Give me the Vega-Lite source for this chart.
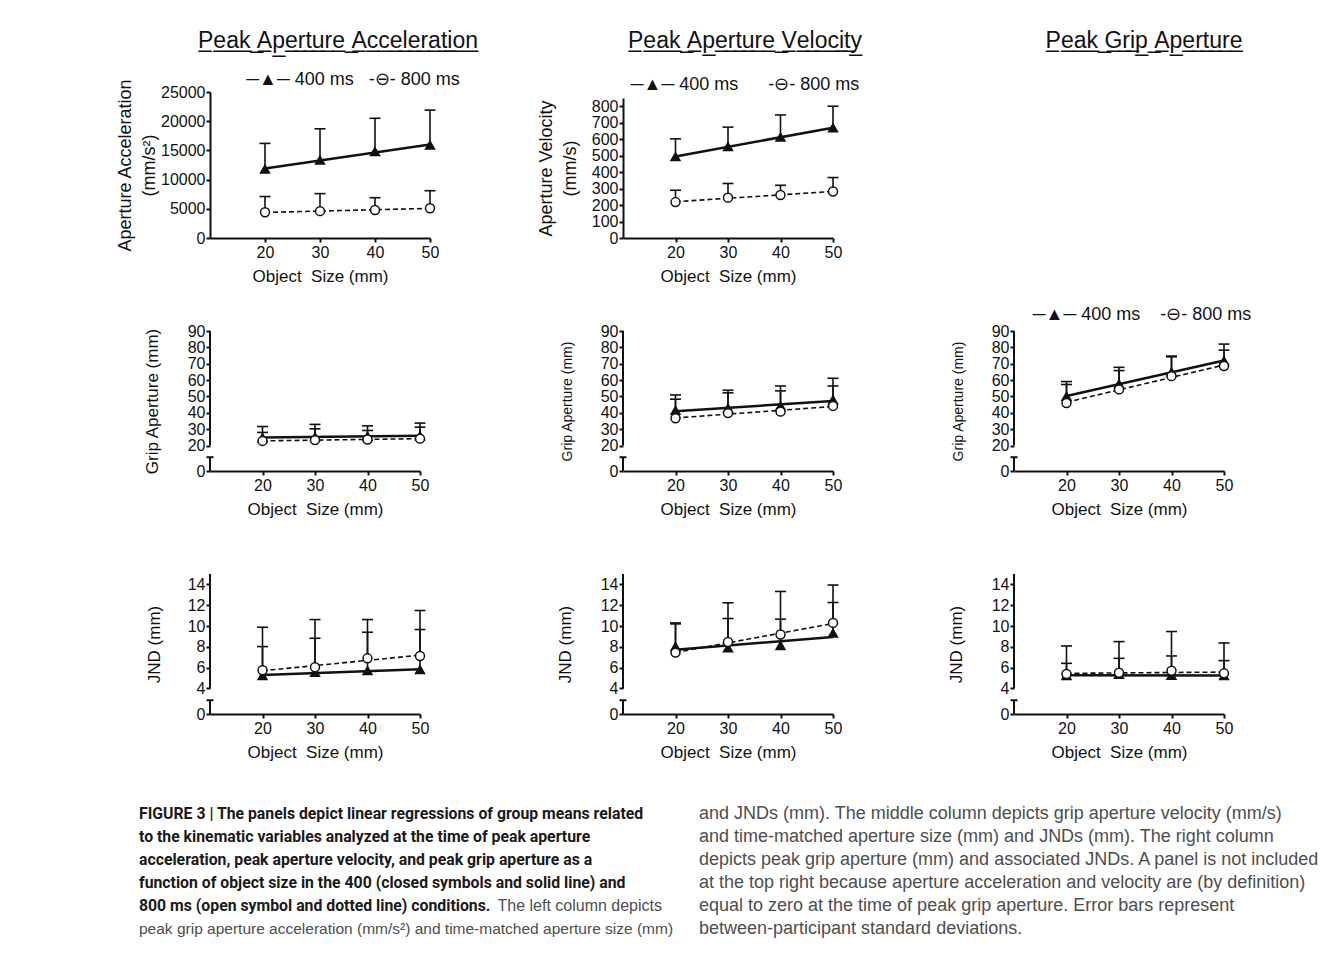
{
"$schema":"https://vega.github.io/schema/vega-lite/v6.json",
"background":"white",
"autosize":{"type":"pad"},
"padding":{"left":116,"top":30,"right":2,"bottom":2},
"datasets":{
"kin":[
{"panel":"acc","series":"400 ms","size":20,"mean":11800,"upper":16200},
{"panel":"acc","series":"400 ms","size":30,"mean":13350,"upper":18700},
{"panel":"acc","series":"400 ms","size":40,"mean":14800,"upper":20500},
{"panel":"acc","series":"400 ms","size":50,"mean":15900,"upper":21900},
{"panel":"acc","series":"800 ms","size":20,"mean":4400,"upper":7100},
{"panel":"acc","series":"800 ms","size":30,"mean":4600,"upper":7600},
{"panel":"acc","series":"800 ms","size":40,"mean":4800,"upper":6900},
{"panel":"acc","series":"800 ms","size":50,"mean":5100,"upper":8100},
{"panel":"vel","series":"400 ms","size":20,"mean":494,"upper":602},
{"panel":"vel","series":"400 ms","size":30,"mean":555,"upper":673},
{"panel":"vel","series":"400 ms","size":40,"mean":612,"upper":747},
{"panel":"vel","series":"400 ms","size":50,"mean":669,"upper":800},
{"panel":"vel","series":"800 ms","size":20,"mean":218,"upper":290},
{"panel":"vel","series":"800 ms","size":30,"mean":245,"upper":331},
{"panel":"vel","series":"800 ms","size":40,"mean":261,"upper":320},
{"panel":"vel","series":"800 ms","size":50,"mean":282,"upper":367},
{"panel":"grip_acc","series":"400 ms","size":20,"mean":24.8,"upper":31.6},
{"panel":"grip_acc","series":"400 ms","size":30,"mean":25.2,"upper":32.9},
{"panel":"grip_acc","series":"400 ms","size":40,"mean":25.6,"upper":32.0},
{"panel":"grip_acc","series":"400 ms","size":50,"mean":25.9,"upper":33.7},
{"panel":"grip_acc","series":"800 ms","size":20,"mean":22.8,"upper":28.0},
{"panel":"grip_acc","series":"800 ms","size":30,"mean":23.3,"upper":30.2},
{"panel":"grip_acc","series":"800 ms","size":40,"mean":23.7,"upper":29.2},
{"panel":"grip_acc","series":"800 ms","size":50,"mean":24.2,"upper":31.2},
{"panel":"grip_vel","series":"400 ms","size":20,"mean":41.4,"upper":50.9},
{"panel":"grip_vel","series":"400 ms","size":30,"mean":42.8,"upper":53.8},
{"panel":"grip_vel","series":"400 ms","size":40,"mean":44.2,"upper":56.4},
{"panel":"grip_vel","series":"400 ms","size":50,"mean":47.9,"upper":61.1},
{"panel":"grip_vel","series":"800 ms","size":20,"mean":36.7,"upper":48.3},
{"panel":"grip_vel","series":"800 ms","size":30,"mean":39.8,"upper":52.2},
{"panel":"grip_vel","series":"800 ms","size":40,"mean":40.7,"upper":53.4},
{"panel":"grip_vel","series":"800 ms","size":50,"mean":44.2,"upper":56.4},
{"panel":"grip_pga","series":"400 ms","size":20,"mean":50.1,"upper":59.1},
{"panel":"grip_pga","series":"400 ms","size":30,"mean":57.7,"upper":67.8},
{"panel":"grip_pga","series":"400 ms","size":40,"mean":64.8,"upper":74.7},
{"panel":"grip_pga","series":"400 ms","size":50,"mean":71.8,"upper":82.0},
{"panel":"grip_pga","series":"800 ms","size":20,"mean":46.0,"upper":57.3},
{"panel":"grip_pga","series":"800 ms","size":30,"mean":54.3,"upper":65.8},
{"panel":"grip_pga","series":"800 ms","size":40,"mean":62.4,"upper":74.2},
{"panel":"grip_pga","series":"800 ms","size":50,"mean":68.6,"upper":78.3},
{"panel":"jnd_acc","series":"400 ms","size":20,"mean":5.22,"upper":8.02},
{"panel":"jnd_acc","series":"400 ms","size":30,"mean":5.54,"upper":8.82},
{"panel":"jnd_acc","series":"400 ms","size":40,"mean":5.7,"upper":9.4},
{"panel":"jnd_acc","series":"400 ms","size":50,"mean":5.8,"upper":9.66},
{"panel":"jnd_acc","series":"800 ms","size":20,"mean":5.74,"upper":9.88},
{"panel":"jnd_acc","series":"800 ms","size":30,"mean":6.03,"upper":10.62},
{"panel":"jnd_acc","series":"800 ms","size":40,"mean":6.89,"upper":10.62},
{"panel":"jnd_acc","series":"800 ms","size":50,"mean":7.12,"upper":11.49},
{"panel":"jnd_vel","series":"400 ms","size":20,"mean":8.02,"upper":10.2},
{"panel":"jnd_vel","series":"400 ms","size":30,"mean":7.89,"upper":10.72},
{"panel":"jnd_vel","series":"400 ms","size":40,"mean":8.12,"upper":10.66},
{"panel":"jnd_vel","series":"400 ms","size":50,"mean":9.31,"upper":12.26},
{"panel":"jnd_vel","series":"800 ms","size":20,"mean":7.44,"upper":10.3},
{"panel":"jnd_vel","series":"800 ms","size":30,"mean":8.47,"upper":12.23},
{"panel":"jnd_vel","series":"800 ms","size":40,"mean":9.18,"upper":13.32},
{"panel":"jnd_vel","series":"800 ms","size":50,"mean":10.3,"upper":13.94},
{"panel":"jnd_pga","series":"400 ms","size":20,"mean":5.22,"upper":6.41},
{"panel":"jnd_pga","series":"400 ms","size":30,"mean":5.35,"upper":6.89},
{"panel":"jnd_pga","series":"400 ms","size":40,"mean":5.25,"upper":7.12},
{"panel":"jnd_pga","series":"400 ms","size":50,"mean":5.22,"upper":6.67},
{"panel":"jnd_pga","series":"800 ms","size":20,"mean":5.38,"upper":8.08},
{"panel":"jnd_pga","series":"800 ms","size":30,"mean":5.5,"upper":8.5},
{"panel":"jnd_pga","series":"800 ms","size":40,"mean":5.7,"upper":9.47},
{"panel":"jnd_pga","series":"800 ms","size":50,"mean":5.45,"upper":8.37}
],
"caption":[
{"col":0,"line":1,"part":"lead","text":"FIGURE 3 | The panels depict linear regressions of group means related"},
{"col":0,"line":2,"part":"lead","text":"to the kinematic variables analyzed at the time of peak aperture"},
{"col":0,"line":3,"part":"lead","text":"acceleration, peak aperture velocity, and peak grip aperture as a"},
{"col":0,"line":4,"part":"lead","text":"function of object size in the 400 (closed symbols and solid line) and"},
{"col":0,"line":5,"part":"lead","text":"800 ms (open symbol and dotted line) conditions."},
{"col":0,"line":5,"part":"body","text":"The left column depicts"},
{"col":0,"line":6,"part":"body","text":"peak grip aperture acceleration (mm/s²) and time-matched aperture size (mm)"},
{"col":1,"line":1,"part":"body","text":"and JNDs (mm). The middle column depicts grip aperture velocity (mm/s)"},
{"col":1,"line":2,"part":"body","text":"and time-matched aperture size (mm) and JNDs (mm). The right column"},
{"col":1,"line":3,"part":"body","text":"depicts peak grip aperture (mm) and associated JNDs. A panel is not included"},
{"col":1,"line":4,"part":"body","text":"at the top right because aperture acceleration and velocity are (by definition)"},
{"col":1,"line":5,"part":"body","text":"equal to zero at the time of peak grip aperture. Error bars represent"},
{"col":1,"line":6,"part":"body","text":"between-participant standard deviations."}
]
},
"vconcat":[
{"columns":3,"bounds":"flush","spacing":{"row":93,"column":193},
"concat":[
{"width":220,"height":146,
 "title":{"text":"P\u0332e\u0332a\u0332k\u0332 \u0332A\u0332p\u0332e\u0332r\u0332t\u0332u\u0332r\u0332e\u0332 \u0332A\u0332c\u0332c\u0332e\u0332l\u0332e\u0332r\u0332a\u0332t\u0332i\u0332o\u0332n\u0332","subtitle":"\u200b\u00a0\u00a0\u00a0\u00a0\u00a0\u00a0─▲─ 400 ms\u00a0\u00a0\u00a0-⊖- 800 ms","dx":18,"offset":-11},
 "data":{"name":"kin"},
 "transform":[{"filter":"datum.panel === 'acc'"}],
 "encoding":{
  "x":{"field":"size","type":"quantitative","scale":{"domain":[10,50],"nice":false,"zero":false},"axis":{"values":[20,30,40,50],"title":"Object\u00a0 Size (mm)"}},
  "y":{"field":"mean","type":"quantitative","scale":{"domain":[0,25000],"nice":false,"zero":false},"axis":{"values":[0,5000,10000,15000,20000,25000],"format":"d","title":["Aperture Acceleration","(mm/s²)"],"titleFontSize":18,"titlePadding":2,"titleLineHeight":24}}
 },
 "layer":[
  {"mark":{"type":"rule","color":"#111","strokeWidth":1.6},"encoding":{"y2":{"field":"upper"}}},
  {"mark":{"type":"tick","orient":"horizontal","color":"#111","thickness":1.6,"size":11,"opacity":1},"encoding":{"y":{"field":"upper","type":"quantitative","scale":{"domain":[0,25000],"nice":false,"zero":false}}}},
  {"transform":[{"filter":"datum.series === '800 ms'"},{"regression":"mean","on":"size","extent":[20,50]}],"mark":{"type":"line","color":"#111","strokeWidth":1.6,"strokeDash":[5,3]},"encoding":{}},
  {"transform":[{"filter":"datum.series === '400 ms'"},{"regression":"mean","on":"size","extent":[20,50]}],"mark":{"type":"line","color":"#111","strokeWidth":2.5},"encoding":{}},
  {"mark":{"type":"point","filled":true,"stroke":"#111","strokeWidth":1.5,"size":80,"opacity":1},"encoding":{"shape":{"field":"series","type":"nominal","scale":{"domain":["400 ms","800 ms"],"range":["triangle-up","circle"]},"legend":null},"fill":{"field":"series","type":"nominal","scale":{"domain":["400 ms","800 ms"],"range":["#111111","#ffffff"]},"legend":null}}}
 ]
},
{"width":198,"height":146,
 "title":{"text":"P\u0332e\u0332a\u0332k\u0332 \u0332A\u0332p\u0332e\u0332r\u0332t\u0332u\u0332r\u0332e\u0332 \u0332V\u0332e\u0332l\u0332o\u0332c\u0332i\u0332t\u0332y\u0332","subtitle":"─▲─ 400 ms\u00a0\u00a0\u00a0\u00a0\u00a0\u00a0-⊖- 800 ms","dx":23,"offset":-2,"subtitlePadding":23},
 "data":{"name":"kin"},
 "transform":[{"filter":"datum.panel === 'vel'"}],
 "encoding":{
  "x":{"field":"size","type":"quantitative","scale":{"domain":[10,50],"range":[0,210],"nice":false,"zero":false},"axis":{"values":[20,30,40,50],"title":"Object\u00a0 Size (mm)"}},
  "y":{"field":"mean","type":"quantitative","scale":{"domain":[0,850],"range":[146,6],"nice":false,"zero":false},"axis":{"values":[0,100,200,300,400,500,600,700,800],"title":["Aperture Velocity","(mm/s)"],"titleFontSize":18,"titlePadding":12,"titleLineHeight":24}}
 },
 "layer":[
  {"mark":{"type":"rule","color":"#111","strokeWidth":1.6},"encoding":{"y2":{"field":"upper"}}},
  {"mark":{"type":"tick","orient":"horizontal","color":"#111","thickness":1.6,"size":11,"opacity":1},"encoding":{"y":{"field":"upper","type":"quantitative","scale":{"domain":[0,850],"range":[146,6],"nice":false,"zero":false}}}},
  {"transform":[{"filter":"datum.series === '800 ms'"},{"regression":"mean","on":"size","extent":[20,50]}],"mark":{"type":"line","color":"#111","strokeWidth":1.6,"strokeDash":[5,3]},"encoding":{}},
  {"transform":[{"filter":"datum.series === '400 ms'"},{"regression":"mean","on":"size","extent":[20,50]}],"mark":{"type":"line","color":"#111","strokeWidth":2.5},"encoding":{}},
  {"mark":{"type":"point","filled":true,"stroke":"#111","strokeWidth":1.5,"size":80,"opacity":1},"encoding":{"shape":{"field":"series","type":"nominal","scale":{"domain":["400 ms","800 ms"],"range":["triangle-up","circle"]},"legend":null},"fill":{"field":"series","type":"nominal","scale":{"domain":["400 ms","800 ms"],"range":["#111111","#ffffff"]},"legend":null}}}
 ]
},
{"width":210,"height":146,
 "title":{"text":"P\u0332e\u0332a\u0332k\u0332 \u0332G\u0332r\u0332i\u0332p\u0332 \u0332A\u0332p\u0332e\u0332r\u0332t\u0332u\u0332r\u0332e\u0332","dx":25,"offset":39},
 "data":{"values":[]},
 "mark":"point"
},
{"width":210,"height":140,
 "data":{"name":"kin"},
 "transform":[{"filter":"datum.panel === 'grip_acc'"}],
 "encoding":{
  "x":{"field":"size","type":"quantitative","scale":{"domain":[10,50],"nice":false,"zero":false},"axis":{"values":[20,30,40,50],"title":"Object\u00a0 Size (mm)"}},
  "y":{"field":"mean","type":"quantitative","scale":{"domain":[0,20,90],"range":[140,114.5,0],"nice":false,"zero":false},"axis":{"values":[0,20,30,40,50,60,70,80,90],"domain":false,"title":"Grip Aperture (mm)","titlePadding":26}}
 },
 "layer":[
  {"transform":[{"filter":"datum.series === '400 ms' && datum.size === 20"}],"mark":{"type":"rule","color":"#111","strokeWidth":2},"encoding":{"x":{"datum":10,"type":"quantitative","scale":{"domain":[10,50],"nice":false,"zero":false}},"y":{"datum":20,"type":"quantitative","scale":{"domain":[0,20,90],"range":[140,114.5,0],"nice":false,"zero":false}},"y2":{"datum":90}}},
  {"transform":[{"filter":"datum.series === '400 ms' && datum.size === 20"}],"mark":{"type":"rule","color":"#111","strokeWidth":2},"encoding":{"x":{"datum":10,"type":"quantitative","scale":{"domain":[10,50],"nice":false,"zero":false}},"y":{"datum":0,"type":"quantitative","scale":{"domain":[0,20,90],"range":[140,114.5,0],"nice":false,"zero":false}},"y2":{"datum":10.8}}},
  {"transform":[{"filter":"datum.series === '400 ms' && datum.size === 20"}],"mark":{"type":"tick","orient":"horizontal","color":"#111","thickness":2,"size":7,"opacity":1},"encoding":{"x":{"datum":10,"type":"quantitative","scale":{"domain":[10,50],"nice":false,"zero":false}},"y":{"datum":10.8,"type":"quantitative","scale":{"domain":[0,20,90],"range":[140,114.5,0],"nice":false,"zero":false}}}},
  {"mark":{"type":"rule","color":"#111","strokeWidth":1.6},"encoding":{"y2":{"field":"upper"}}},
  {"mark":{"type":"tick","orient":"horizontal","color":"#111","thickness":1.6,"size":11,"opacity":1},"encoding":{"y":{"field":"upper","type":"quantitative","scale":{"domain":[0,20,90],"range":[140,114.5,0],"nice":false,"zero":false}}}},
  {"transform":[{"filter":"datum.series === '800 ms'"},{"regression":"mean","on":"size","extent":[20,50]}],"mark":{"type":"line","color":"#111","strokeWidth":1.6,"strokeDash":[5,3]},"encoding":{}},
  {"transform":[{"filter":"datum.series === '400 ms'"},{"regression":"mean","on":"size","extent":[20,50]}],"mark":{"type":"line","color":"#111","strokeWidth":2.5},"encoding":{}},
  {"mark":{"type":"point","filled":true,"stroke":"#111","strokeWidth":1.5,"size":80,"opacity":1},"encoding":{"shape":{"field":"series","type":"nominal","scale":{"domain":["400 ms","800 ms"],"range":["triangle-up","circle"]},"legend":null},"fill":{"field":"series","type":"nominal","scale":{"domain":["400 ms","800 ms"],"range":["#111111","#ffffff"]},"legend":null}}}
 ]
},
{"width":198,"height":140,
 "data":{"name":"kin"},
 "transform":[{"filter":"datum.panel === 'grip_vel'"}],
 "encoding":{
  "x":{"field":"size","type":"quantitative","scale":{"domain":[10,50],"range":[0,210],"nice":false,"zero":false},"axis":{"values":[20,30,40,50],"title":"Object\u00a0 Size (mm)"}},
  "y":{"field":"mean","type":"quantitative","scale":{"domain":[0,20,90],"range":[140,114.5,0],"nice":false,"zero":false},"axis":{"values":[0,20,30,40,50,60,70,80,90],"domain":false,"title":"Grip Aperture (mm)","titleFontSize":14,"titlePadding":26}}
 },
 "layer":[
  {"transform":[{"filter":"datum.series === '400 ms' && datum.size === 20"}],"mark":{"type":"rule","color":"#111","strokeWidth":2},"encoding":{"x":{"datum":10,"type":"quantitative","scale":{"domain":[10,50],"range":[0,210],"nice":false,"zero":false}},"y":{"datum":20,"type":"quantitative","scale":{"domain":[0,20,90],"range":[140,114.5,0],"nice":false,"zero":false}},"y2":{"datum":90}}},
  {"transform":[{"filter":"datum.series === '400 ms' && datum.size === 20"}],"mark":{"type":"rule","color":"#111","strokeWidth":2},"encoding":{"x":{"datum":10,"type":"quantitative","scale":{"domain":[10,50],"range":[0,210],"nice":false,"zero":false}},"y":{"datum":0,"type":"quantitative","scale":{"domain":[0,20,90],"range":[140,114.5,0],"nice":false,"zero":false}},"y2":{"datum":10.8}}},
  {"transform":[{"filter":"datum.series === '400 ms' && datum.size === 20"}],"mark":{"type":"tick","orient":"horizontal","color":"#111","thickness":2,"size":7,"opacity":1},"encoding":{"x":{"datum":10,"type":"quantitative","scale":{"domain":[10,50],"range":[0,210],"nice":false,"zero":false}},"y":{"datum":10.8,"type":"quantitative","scale":{"domain":[0,20,90],"range":[140,114.5,0],"nice":false,"zero":false}}}},
  {"mark":{"type":"rule","color":"#111","strokeWidth":1.6},"encoding":{"y2":{"field":"upper"}}},
  {"mark":{"type":"tick","orient":"horizontal","color":"#111","thickness":1.6,"size":11,"opacity":1},"encoding":{"y":{"field":"upper","type":"quantitative","scale":{"domain":[0,20,90],"range":[140,114.5,0],"nice":false,"zero":false}}}},
  {"transform":[{"filter":"datum.series === '800 ms'"},{"regression":"mean","on":"size","extent":[20,50]}],"mark":{"type":"line","color":"#111","strokeWidth":1.6,"strokeDash":[5,3]},"encoding":{}},
  {"transform":[{"filter":"datum.series === '400 ms'"},{"regression":"mean","on":"size","extent":[20,50]}],"mark":{"type":"line","color":"#111","strokeWidth":2.5},"encoding":{}},
  {"mark":{"type":"point","filled":true,"stroke":"#111","strokeWidth":1.5,"size":80,"opacity":1},"encoding":{"shape":{"field":"series","type":"nominal","scale":{"domain":["400 ms","800 ms"],"range":["triangle-up","circle"]},"legend":null},"fill":{"field":"series","type":"nominal","scale":{"domain":["400 ms","800 ms"],"range":["#111111","#ffffff"]},"legend":null}}}
 ]
},
{"width":210,"height":140,
 "title":{"text":"─▲─ 400 ms\u00a0\u00a0\u00a0\u00a0-⊖- 800 ms","fontSize":18,"dx":23,"offset":-1},
 "data":{"name":"kin"},
 "transform":[{"filter":"datum.panel === 'grip_pga'"}],
 "encoding":{
  "x":{"field":"size","type":"quantitative","scale":{"domain":[10,50],"nice":false,"zero":false},"axis":{"values":[20,30,40,50],"title":"Object\u00a0 Size (mm)"}},
  "y":{"field":"mean","type":"quantitative","scale":{"domain":[0,20,90],"range":[140,114.5,0],"nice":false,"zero":false},"axis":{"values":[0,20,30,40,50,60,70,80,90],"domain":false,"title":"Grip Aperture (mm)","titleFontSize":14,"titlePadding":26}}
 },
 "layer":[
  {"transform":[{"filter":"datum.series === '400 ms' && datum.size === 20"}],"mark":{"type":"rule","color":"#111","strokeWidth":2},"encoding":{"x":{"datum":10,"type":"quantitative","scale":{"domain":[10,50],"nice":false,"zero":false}},"y":{"datum":20,"type":"quantitative","scale":{"domain":[0,20,90],"range":[140,114.5,0],"nice":false,"zero":false}},"y2":{"datum":90}}},
  {"transform":[{"filter":"datum.series === '400 ms' && datum.size === 20"}],"mark":{"type":"rule","color":"#111","strokeWidth":2},"encoding":{"x":{"datum":10,"type":"quantitative","scale":{"domain":[10,50],"nice":false,"zero":false}},"y":{"datum":0,"type":"quantitative","scale":{"domain":[0,20,90],"range":[140,114.5,0],"nice":false,"zero":false}},"y2":{"datum":10.8}}},
  {"transform":[{"filter":"datum.series === '400 ms' && datum.size === 20"}],"mark":{"type":"tick","orient":"horizontal","color":"#111","thickness":2,"size":7,"opacity":1},"encoding":{"x":{"datum":10,"type":"quantitative","scale":{"domain":[10,50],"nice":false,"zero":false}},"y":{"datum":10.8,"type":"quantitative","scale":{"domain":[0,20,90],"range":[140,114.5,0],"nice":false,"zero":false}}}},
  {"mark":{"type":"rule","color":"#111","strokeWidth":1.6},"encoding":{"y2":{"field":"upper"}}},
  {"mark":{"type":"tick","orient":"horizontal","color":"#111","thickness":1.6,"size":11,"opacity":1},"encoding":{"y":{"field":"upper","type":"quantitative","scale":{"domain":[0,20,90],"range":[140,114.5,0],"nice":false,"zero":false}}}},
  {"transform":[{"filter":"datum.series === '800 ms'"},{"regression":"mean","on":"size","extent":[20,50]}],"mark":{"type":"line","color":"#111","strokeWidth":1.6,"strokeDash":[5,3]},"encoding":{}},
  {"transform":[{"filter":"datum.series === '400 ms'"},{"regression":"mean","on":"size","extent":[20,50]}],"mark":{"type":"line","color":"#111","strokeWidth":2.5},"encoding":{}},
  {"mark":{"type":"point","filled":true,"stroke":"#111","strokeWidth":1.5,"size":80,"opacity":1},"encoding":{"shape":{"field":"series","type":"nominal","scale":{"domain":["400 ms","800 ms"],"range":["triangle-up","circle"]},"legend":null},"fill":{"field":"series","type":"nominal","scale":{"domain":["400 ms","800 ms"],"range":["#111111","#ffffff"]},"legend":null}}}
 ]
},
{"width":210,"height":150,
 "data":{"name":"kin"},
 "transform":[{"filter":"datum.panel === 'jnd_acc'"}],
 "encoding":{
  "x":{"field":"size","type":"quantitative","scale":{"domain":[10,50],"nice":false,"zero":false},"axis":{"values":[20,30,40,50],"title":"Object\u00a0 Size (mm)"}},
  "y":{"field":"mean","type":"quantitative","scale":{"domain":[0,4,15],"range":[150,124.4,10],"nice":false,"zero":false},"axis":{"values":[0,4,6,8,10,12,14],"domain":false,"title":"JND (mm)","titlePadding":24}}
 },
 "layer":[
  {"transform":[{"filter":"datum.series === '400 ms' && datum.size === 20"}],"mark":{"type":"rule","color":"#111","strokeWidth":2},"encoding":{"x":{"datum":10,"type":"quantitative","scale":{"domain":[10,50],"nice":false,"zero":false}},"y":{"datum":4,"type":"quantitative","scale":{"domain":[0,4,15],"range":[150,124.4,10],"nice":false,"zero":false}},"y2":{"datum":15}}},
  {"transform":[{"filter":"datum.series === '400 ms' && datum.size === 20"}],"mark":{"type":"rule","color":"#111","strokeWidth":2},"encoding":{"x":{"datum":10,"type":"quantitative","scale":{"domain":[10,50],"nice":false,"zero":false}},"y":{"datum":0,"type":"quantitative","scale":{"domain":[0,4,15],"range":[150,124.4,10],"nice":false,"zero":false}},"y2":{"datum":2.15}}},
  {"transform":[{"filter":"datum.series === '400 ms' && datum.size === 20"}],"mark":{"type":"tick","orient":"horizontal","color":"#111","thickness":2,"size":7,"opacity":1},"encoding":{"x":{"datum":10,"type":"quantitative","scale":{"domain":[10,50],"nice":false,"zero":false}},"y":{"datum":2.15,"type":"quantitative","scale":{"domain":[0,4,15],"range":[150,124.4,10],"nice":false,"zero":false}}}},
  {"mark":{"type":"rule","color":"#111","strokeWidth":1.6},"encoding":{"y2":{"field":"upper"}}},
  {"mark":{"type":"tick","orient":"horizontal","color":"#111","thickness":1.6,"size":11,"opacity":1},"encoding":{"y":{"field":"upper","type":"quantitative","scale":{"domain":[0,4,15],"range":[150,124.4,10],"nice":false,"zero":false}}}},
  {"transform":[{"filter":"datum.series === '800 ms'"},{"regression":"mean","on":"size","extent":[20,50]}],"mark":{"type":"line","color":"#111","strokeWidth":1.6,"strokeDash":[5,3]},"encoding":{}},
  {"transform":[{"filter":"datum.series === '400 ms'"},{"regression":"mean","on":"size","extent":[20,50]}],"mark":{"type":"line","color":"#111","strokeWidth":2.5},"encoding":{}},
  {"mark":{"type":"point","filled":true,"stroke":"#111","strokeWidth":1.5,"size":80,"opacity":1},"encoding":{"shape":{"field":"series","type":"nominal","scale":{"domain":["400 ms","800 ms"],"range":["triangle-up","circle"]},"legend":null},"fill":{"field":"series","type":"nominal","scale":{"domain":["400 ms","800 ms"],"range":["#111111","#ffffff"]},"legend":null}}}
 ]
},
{"width":198,"height":150,
 "data":{"name":"kin"},
 "transform":[{"filter":"datum.panel === 'jnd_vel'"}],
 "encoding":{
  "x":{"field":"size","type":"quantitative","scale":{"domain":[10,50],"range":[0,210],"nice":false,"zero":false},"axis":{"values":[20,30,40,50],"title":"Object\u00a0 Size (mm)"}},
  "y":{"field":"mean","type":"quantitative","scale":{"domain":[0,4,15],"range":[150,124.4,10],"nice":false,"zero":false},"axis":{"values":[0,4,6,8,10,12,14],"domain":false,"title":"JND (mm)","titlePadding":26}}
 },
 "layer":[
  {"transform":[{"filter":"datum.series === '400 ms' && datum.size === 20"}],"mark":{"type":"rule","color":"#111","strokeWidth":2},"encoding":{"x":{"datum":10,"type":"quantitative","scale":{"domain":[10,50],"range":[0,210],"nice":false,"zero":false}},"y":{"datum":4,"type":"quantitative","scale":{"domain":[0,4,15],"range":[150,124.4,10],"nice":false,"zero":false}},"y2":{"datum":15}}},
  {"transform":[{"filter":"datum.series === '400 ms' && datum.size === 20"}],"mark":{"type":"rule","color":"#111","strokeWidth":2},"encoding":{"x":{"datum":10,"type":"quantitative","scale":{"domain":[10,50],"range":[0,210],"nice":false,"zero":false}},"y":{"datum":0,"type":"quantitative","scale":{"domain":[0,4,15],"range":[150,124.4,10],"nice":false,"zero":false}},"y2":{"datum":2.15}}},
  {"transform":[{"filter":"datum.series === '400 ms' && datum.size === 20"}],"mark":{"type":"tick","orient":"horizontal","color":"#111","thickness":2,"size":7,"opacity":1},"encoding":{"x":{"datum":10,"type":"quantitative","scale":{"domain":[10,50],"range":[0,210],"nice":false,"zero":false}},"y":{"datum":2.15,"type":"quantitative","scale":{"domain":[0,4,15],"range":[150,124.4,10],"nice":false,"zero":false}}}},
  {"mark":{"type":"rule","color":"#111","strokeWidth":1.6},"encoding":{"y2":{"field":"upper"}}},
  {"mark":{"type":"tick","orient":"horizontal","color":"#111","thickness":1.6,"size":11,"opacity":1},"encoding":{"y":{"field":"upper","type":"quantitative","scale":{"domain":[0,4,15],"range":[150,124.4,10],"nice":false,"zero":false}}}},
  {"transform":[{"filter":"datum.series === '800 ms'"},{"regression":"mean","on":"size","extent":[20,50]}],"mark":{"type":"line","color":"#111","strokeWidth":1.6,"strokeDash":[5,3]},"encoding":{}},
  {"transform":[{"filter":"datum.series === '400 ms'"},{"regression":"mean","on":"size","extent":[20,50]}],"mark":{"type":"line","color":"#111","strokeWidth":2.5},"encoding":{}},
  {"mark":{"type":"point","filled":true,"stroke":"#111","strokeWidth":1.5,"size":80,"opacity":1},"encoding":{"shape":{"field":"series","type":"nominal","scale":{"domain":["400 ms","800 ms"],"range":["triangle-up","circle"]},"legend":null},"fill":{"field":"series","type":"nominal","scale":{"domain":["400 ms","800 ms"],"range":["#111111","#ffffff"]},"legend":null}}}
 ]
},
{"width":210,"height":150,
 "data":{"name":"kin"},
 "transform":[{"filter":"datum.panel === 'jnd_pga'"}],
 "encoding":{
  "x":{"field":"size","type":"quantitative","scale":{"domain":[10,50],"nice":false,"zero":false},"axis":{"values":[20,30,40,50],"title":"Object\u00a0 Size (mm)"}},
  "y":{"field":"mean","type":"quantitative","scale":{"domain":[0,4,15],"range":[150,124.4,10],"nice":false,"zero":false},"axis":{"values":[0,4,6,8,10,12,14],"domain":false,"title":"JND (mm)","titlePadding":26}}
 },
 "layer":[
  {"transform":[{"filter":"datum.series === '400 ms' && datum.size === 20"}],"mark":{"type":"rule","color":"#111","strokeWidth":2},"encoding":{"x":{"datum":10,"type":"quantitative","scale":{"domain":[10,50],"nice":false,"zero":false}},"y":{"datum":4,"type":"quantitative","scale":{"domain":[0,4,15],"range":[150,124.4,10],"nice":false,"zero":false}},"y2":{"datum":15}}},
  {"transform":[{"filter":"datum.series === '400 ms' && datum.size === 20"}],"mark":{"type":"rule","color":"#111","strokeWidth":2},"encoding":{"x":{"datum":10,"type":"quantitative","scale":{"domain":[10,50],"nice":false,"zero":false}},"y":{"datum":0,"type":"quantitative","scale":{"domain":[0,4,15],"range":[150,124.4,10],"nice":false,"zero":false}},"y2":{"datum":2.15}}},
  {"transform":[{"filter":"datum.series === '400 ms' && datum.size === 20"}],"mark":{"type":"tick","orient":"horizontal","color":"#111","thickness":2,"size":7,"opacity":1},"encoding":{"x":{"datum":10,"type":"quantitative","scale":{"domain":[10,50],"nice":false,"zero":false}},"y":{"datum":2.15,"type":"quantitative","scale":{"domain":[0,4,15],"range":[150,124.4,10],"nice":false,"zero":false}}}},
  {"mark":{"type":"rule","color":"#111","strokeWidth":1.6},"encoding":{"y2":{"field":"upper"}}},
  {"mark":{"type":"tick","orient":"horizontal","color":"#111","thickness":1.6,"size":11,"opacity":1},"encoding":{"y":{"field":"upper","type":"quantitative","scale":{"domain":[0,4,15],"range":[150,124.4,10],"nice":false,"zero":false}}}},
  {"transform":[{"filter":"datum.series === '800 ms'"},{"regression":"mean","on":"size","extent":[20,50]}],"mark":{"type":"line","color":"#111","strokeWidth":1.6,"strokeDash":[5,3]},"encoding":{}},
  {"transform":[{"filter":"datum.series === '400 ms'"},{"regression":"mean","on":"size","extent":[20,50]}],"mark":{"type":"line","color":"#111","strokeWidth":2.5},"encoding":{}},
  {"mark":{"type":"point","filled":true,"stroke":"#111","strokeWidth":1.5,"size":80,"opacity":1},"encoding":{"shape":{"field":"series","type":"nominal","scale":{"domain":["400 ms","800 ms"],"range":["triangle-up","circle"]},"legend":null},"fill":{"field":"series","type":"nominal","scale":{"domain":["400 ms","800 ms"],"range":["#111111","#ffffff"]},"legend":null}}}
 ]
}
]},
{"width":1100,"height":115,
 "data":{"name":"caption"},
 "encoding":{
  "x":{"field":"col","type":"quantitative","scale":{"domain":[0.1268,2.0911],"nice":false,"zero":false},"axis":null},
  "y":{"field":"line","type":"quantitative","scale":{"domain":[1,6],"reverse":true,"nice":false,"zero":false},"axis":null},
  "text":{"field":"text","type":"nominal"}
 },
 "layer":[
  {"transform":[{"filter":"datum.part === 'lead'"}],"mark":{"type":"text","align":"left","baseline":"middle","font":"Roboto","fontWeight":"bold","fontSize":15.8,"color":"#1a1a1a"}},
  {"transform":[{"filter":"datum.part === 'body' && datum.col === 0 && datum.line !== 5"}],"mark":{"type":"text","align":"left","baseline":"middle","font":"Liberation Sans","fontSize":15.5,"color":"#4d4d4d"}},
  {"transform":[{"filter":"datum.part === 'body' && datum.col === 1"}],"mark":{"type":"text","align":"left","baseline":"middle","font":"Liberation Sans","fontSize":18,"color":"#4d4d4d"}},
  {"transform":[{"filter":"datum.part === 'body' && datum.col === 0 && datum.line === 5"}],"mark":{"type":"text","align":"right","baseline":"middle","font":"Liberation Sans","fontSize":16,"color":"#4d4d4d"},"encoding":{"x":{"datum":0.934,"type":"quantitative","scale":{"domain":[0.1268,2.0911],"nice":false,"zero":false}}}}
 ]
}
],
"spacing":45,
"config":{
 "font":"Liberation Sans",
 "view":{"stroke":null},
 "axis":{"grid":false,"domainColor":"#111","domainWidth":2,"tickColor":"#111","tickWidth":2,"tickSize":4,"labelFont":"Liberation Sans","labelFontSize":16,"labelColor":"#111","labelPadding":1,"labelOverlap":false,"labelFlush":false,"titleFont":"Liberation Sans","titleFontSize":17,"titleFontWeight":"normal","titleColor":"#111"},
 "axisX":{"labelPadding":2,"titlePadding":8},
 "title":{"font":"Liberation Sans","fontSize":23,"fontWeight":"normal","color":"#111","subtitleFont":"Liberation Sans","subtitleFontSize":18,"subtitleColor":"#111","subtitlePadding":18,"anchor":"middle","frame":"group","offset":5}
}
}
